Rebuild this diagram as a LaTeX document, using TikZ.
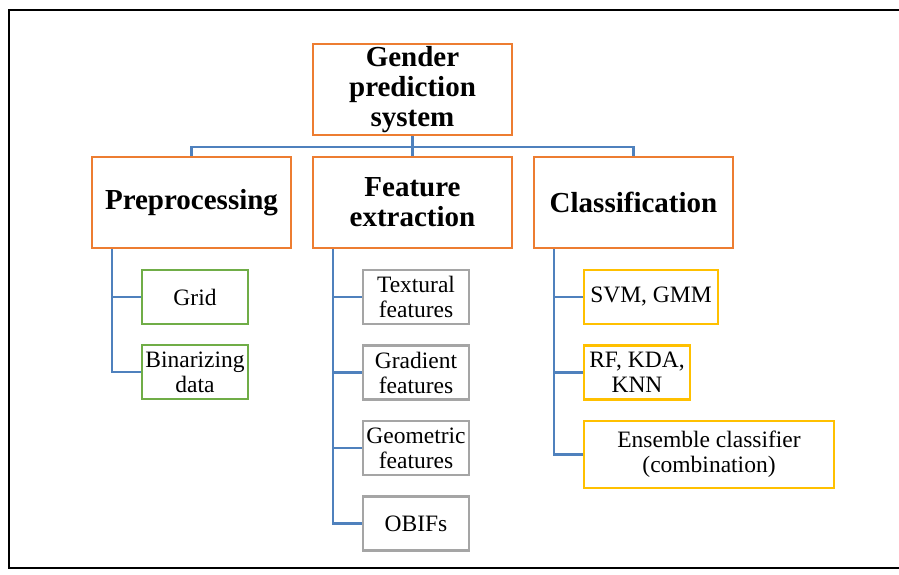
\documentclass[tikz,border=0pt]{standalone}
\usepackage{fontspec}
\setmainfont{Liberation Serif}
\definecolor{boxorange}{HTML}{ED7D31}
\definecolor{linkblue}{HTML}{4F81BD}
\definecolor{boxgreen}{HTML}{70AD47}
\definecolor{boxgray}{HTML}{A5A5A5}
\definecolor{boxyellow}{HTML}{FFC000}
\tikzset{
  topbox/.style={draw=boxorange, line width=2.8pt, fill=white, inner sep=0pt,
    align=center, font=\fontsize{29}{30}\selectfont\bfseries},
  leafbox/.style={line width=2.6pt, fill=white, inner sep=0pt, align=center,
    font=\fontsize{23.5}{25}\selectfont},
  greenbox/.style={leafbox, draw=boxgreen},
  graybox/.style={leafbox, draw=boxgray},
  yellowbox/.style={leafbox, draw=boxyellow},
  link/.style={draw=linkblue, line width=2.6pt},
  frame/.style={draw=black, line width=2.4pt}
}
\begin{document}
\begin{tikzpicture}[x=1pt,y=-1pt]
\useasboundingbox (0,0) rectangle (899,574);
\draw[frame] (899,10) -- (9,10) -- (9,568) -- (899,568);

% coordinates
\coordinate (bus) at (0,147);
\coordinate (pv) at (112,0);
\coordinate (fv) at (333,0);
\coordinate (cv) at (554,0);

% top level
\node[topbox, minimum width=199pt, minimum height=91pt] (root) at (412.5,89.5) {Gender\\prediction\\system};
\node[topbox, minimum width=199pt, minimum height=91pt] (pre) at (191.5,202.5) {Preprocessing};
\node[topbox, minimum width=199pt, minimum height=91pt] (feat) at (412.5,202.5) {Feature\\extraction};
\node[topbox, minimum width=199pt, minimum height=91pt] (cls) at (633.5,202.5) {Classification};

% preprocessing children
\node[greenbox, minimum width=106pt, minimum height=54pt] (grid) at (195,297) {Grid};
\node[greenbox, minimum width=106pt, minimum height=54pt] (bin) at (195,372) {Binarizing\\data};

% feature children
\node[graybox, minimum width=106pt, minimum height=54pt] (tex) at (416,297) {Textural\\features};
\node[graybox, minimum width=106pt, minimum height=54pt] (grad) at (416,372.5) {Gradient\\features};
\node[graybox, minimum width=106pt, minimum height=54pt] (geo) at (416,448) {Geometric\\features};
\node[graybox, minimum width=106pt, minimum height=54pt] (obif) at (416,523.5) {OBIFs};

% classification children
\node[yellowbox, minimum width=134pt, minimum height=54pt] (svm) at (651,297) {SVM, GMM};
\node[yellowbox, minimum width=106pt, minimum height=54pt] (rf) at (637,372.5) {RF, KDA,\\KNN};
\node[yellowbox, minimum width=250pt, minimum height=67pt] (ens) at (709,454.5) {Ensemble classifier\\(combination)};

% connectors top
\path[link] (root.south) -- (feat.north);
\path[link] (pre.north) -- (pre.north |- bus) -- (cls.north |- bus) -- (cls.north);

% children connectors
\path[link] (pre.south -| pv) |- (bin.west);
\path[link] (pv |- grid.west) -- (grid.west);

\path[link] (feat.south -| fv) |- (obif.west);
\path[link] (fv |- tex.west) -- (tex.west);
\path[link] (fv |- grad.west) -- (grad.west);
\path[link] (fv |- geo.west) -- (geo.west);

\path[link] (cls.south -| cv) |- (ens.west);
\path[link] (cv |- svm.west) -- (svm.west);
\path[link] (cv |- rf.west) -- (rf.west);
\end{tikzpicture}
\end{document}
